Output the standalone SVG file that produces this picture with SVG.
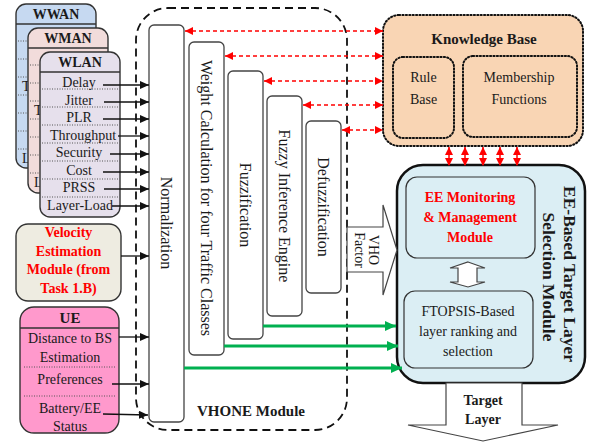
<svg xmlns="http://www.w3.org/2000/svg" width="594" height="443" viewBox="0 0 594 443" font-family="'Liberation Serif', 'Times New Roman', serif">
  <defs>
    <marker id="ahBlack" markerUnits="userSpaceOnUse" markerWidth="9" markerHeight="8" refX="9" refY="4" orient="auto">
      <path d="M0,0 L9,4 L0,8 z" fill="#111"/>
    </marker>
    <marker id="ahRed" markerUnits="userSpaceOnUse" markerWidth="8" markerHeight="8" refX="8" refY="4" orient="auto-start-reverse">
      <path d="M0,0 L8,4 L0,8 z" fill="#ff0000"/>
    </marker>
    <marker id="ahGreen" markerUnits="userSpaceOnUse" markerWidth="11" markerHeight="10" refX="11" refY="5" orient="auto">
      <path d="M0,0 L11,5 L0,10 z" fill="#00b050"/>
    </marker>
    <style>
      text { font-family: "Liberation Serif", "Times New Roman", serif; fill: #1a1a1a; }
      .t14 { font-size: 14px; }
      .t16 { font-size: 16px; }
      .b { font-weight: bold; }
      .red { fill: #ff0000; }
      .mid { text-anchor: middle; }
      .vc { text-anchor: middle; dominant-baseline: central; }
      .card { stroke: #333; stroke-width: 1.4; }
      .sep { stroke: #555; stroke-width: 1; stroke-dasharray: 1 1.5; }
      .hdr { stroke: #333; stroke-width: 1.4; }
      .stage { fill: #fff; stroke: #444; stroke-width: 1.3; }
      .dotbox { stroke: #111; stroke-width: 2; stroke-dasharray: 1.2 2.2; stroke-linecap: round; }
      .inbox { fill: #dbeef4; stroke: #333; stroke-width: 1.2; }
      .hollow { fill: #fff; stroke: #444; stroke-width: 1.2; }
      .inp { stroke: #111; stroke-width: 1.3; fill: none; marker-end: url(#ahBlack); }
      .kb { stroke: #ff0000; stroke-width: 1.5; stroke-dasharray: 4 3; fill: none; marker-start: url(#ahRed); marker-end: url(#ahRed); }
      .grn { stroke: #00b050; stroke-width: 3; fill: none; marker-end: url(#ahGreen); }
    </style>
  </defs>

  <!-- stacked network-layer parameter cards -->
  <g id="wwan">
    <rect class="card" x="16" y="4" width="80" height="164" rx="10" fill="#c6d9f1"/>
    <line class="hdr" x1="16" y1="24" x2="96" y2="24"/>
    <g class="sep">
      <line x1="18" y1="41" x2="94" y2="41"/><line x1="18" y1="59" x2="94" y2="59"/>
      <line x1="18" y1="77" x2="94" y2="77"/><line x1="18" y1="95" x2="94" y2="95"/>
      <line x1="18" y1="113" x2="94" y2="113"/><line x1="18" y1="131" x2="94" y2="131"/>
      <line x1="18" y1="149" x2="94" y2="149"/>
    </g>
    <text class="t14 b mid" x="56" y="19">WWAN</text>
    <text class="t14" x="22" y="91">T</text>
    <text class="t14" x="22" y="163">L</text>
  </g>
  <g id="wman">
    <rect class="card" x="28" y="28" width="80" height="165" rx="10" fill="#f2dcdb"/>
    <line class="hdr" x1="28" y1="48" x2="108" y2="48"/>
    <g class="sep">
      <line x1="30" y1="65" x2="106" y2="65"/><line x1="30" y1="83" x2="106" y2="83"/>
      <line x1="30" y1="101" x2="106" y2="101"/><line x1="30" y1="119" x2="106" y2="119"/>
      <line x1="30" y1="137" x2="106" y2="137"/><line x1="30" y1="155" x2="106" y2="155"/>
      <line x1="30" y1="173" x2="106" y2="173"/>
    </g>
    <text class="t14 b mid" x="68" y="43">WMAN</text>
    <text class="t14" x="34" y="115">T</text>
    <text class="t14" x="34" y="187">L</text>
  </g>
  <g id="wlan">
    <rect class="card" x="40" y="52" width="80" height="165" rx="10" fill="#e6e0ec"/>
    <line class="hdr" x1="40" y1="72" x2="120" y2="72"/>
    <g class="sep">
      <line x1="42" y1="89" x2="118" y2="89"/><line x1="42" y1="107" x2="118" y2="107"/>
      <line x1="42" y1="125" x2="118" y2="125"/><line x1="42" y1="143" x2="118" y2="143"/>
      <line x1="42" y1="161" x2="118" y2="161"/><line x1="42" y1="179" x2="118" y2="179"/>
      <line x1="42" y1="197" x2="118" y2="197"/>
    </g>
    <text class="t14 b mid" x="80" y="67">WLAN</text>
    <text class="t14 mid" x="79" y="87">Delay</text>
    <text class="t14 mid" x="79" y="105">Jitter</text>
    <text class="t14 mid" x="79" y="122">PLR</text>
    <text class="t14 mid" x="83" y="140">Throughput</text>
    <text class="t14 mid" x="79" y="157">Security</text>
    <text class="t14 mid" x="79" y="175">Cost</text>
    <text class="t14 mid" x="79" y="192">PRSS</text>
    <text class="t14 mid" x="80" y="210">Layer-Load</text>
  </g>

  <g id="velocity">
    <rect class="card" x="16" y="224" width="105" height="77" rx="12" fill="#eeece1"/>
    <text class="t14 b mid red" x="68.5" y="237">Velocity</text>
    <text class="t14 b mid red" x="68.5" y="256">Estimation</text>
    <text class="t14 b mid red" x="68.5" y="274">Module (from</text>
    <text class="t14 b mid red" x="68.5" y="293">Task 1.B)</text>
  </g>

  <g id="ue">
    <rect class="card" x="20" y="307" width="99" height="126" rx="14" fill="#ff99cc"/>
    <line class="hdr" x1="20" y1="328" x2="119" y2="328"/>
    <line class="sep" x1="24" y1="367" x2="115" y2="367"/>
    <line class="sep" x1="24" y1="396" x2="115" y2="396"/>
    <text class="t14 b mid" x="70" y="323" style="font-size:15px">UE</text>
    <text class="t14 mid" x="70" y="343">Distance to BS</text>
    <text class="t14 mid" x="70" y="362">Estimation</text>
    <text class="t14 mid" x="70" y="384">Preferences</text>
    <text class="t14 mid" x="70" y="413">Battery/EE</text>
    <text class="t14 mid" x="70" y="431">Status</text>
  </g>

  <!-- VHONE fuzzy pipeline -->
  <g id="vhone">
    <rect x="136" y="8" width="211" height="422" rx="32" fill="none" stroke="#111" stroke-width="1.8" stroke-dasharray="8 5"/>
    <text class="b mid" x="251" y="416" style="font-size:15px">VHONE Module</text>
  </g>
  <g id="normalization">
    <rect class="stage" x="149" y="25" width="35" height="397" rx="5"/>
    <text class="t16 vc" transform="translate(166.5,223) rotate(90)">Normalization</text>
  </g>
  <g id="weights">
    <rect class="stage" x="189" y="42" width="35" height="313" rx="5"/>
    <text class="t16 vc" transform="translate(206.5,198) rotate(90)">Weight Calculation for four Traffic Classes</text>
  </g>
  <g id="fuzzification">
    <rect class="stage" x="228" y="71" width="35" height="268" rx="5"/>
    <text class="t16 vc" transform="translate(245.5,205) rotate(90)">Fuzzification</text>
  </g>
  <g id="inference">
    <rect class="stage" x="267" y="96" width="35" height="220" rx="5"/>
    <text class="t16 vc" transform="translate(284.5,206) rotate(90)">Fuzzy Inference Engine</text>
  </g>
  <g id="defuzzification">
    <rect class="stage" x="306" y="121" width="35" height="172" rx="5"/>
    <text class="t16 vc" transform="translate(323.5,207) rotate(90)">Defuzzification</text>
  </g>

  <g id="knowledge-base">
    <rect class="dotbox" x="383" y="15" width="200" height="131" rx="16" fill="#f9d5b4"/>
    <text class="b mid" x="484" y="44" style="font-size:15px">Knowledge Base</text>
    <rect class="dotbox" x="393" y="57" width="61" height="81" rx="10" fill="none"/>
    <text class="t14 mid" x="423.5" y="82">Rule</text>
    <text class="t14 mid" x="423.5" y="104">Base</text>
    <rect class="dotbox" x="463" y="56" width="114" height="81" rx="10" fill="none"/>
    <text class="t14 mid" x="519" y="82">Membership</text>
    <text class="t14 mid" x="519" y="104">Functions</text>
  </g>

  <g id="target-selection">
    <rect x="397" y="165" width="188" height="218" rx="26" fill="#dbeef4" stroke="#111" stroke-width="2.5"/>
    <text class="b vc" transform="translate(570,274) rotate(90)" style="font-size:17.5px">EE-Based Target Layer</text>
    <text class="b vc" transform="translate(549,277) rotate(90)" style="font-size:17.5px">Selection Module</text>
  </g>
  <g id="ee-monitoring">
    <rect class="inbox" x="406" y="177" width="129" height="81" rx="11"/>
    <text class="t14 b mid red" x="470" y="202">EE Monitoring</text>
    <text class="t14 b mid red" x="470" y="222">&amp; Management</text>
    <text class="t14 b mid red" x="470" y="242">Module</text>
  </g>
  <g id="ftopsis">
    <rect class="inbox" x="404" y="291" width="129" height="77" rx="11"/>
    <text class="t14 mid" x="468" y="316">FTOPSIS-Based</text>
    <text class="t14 mid" x="468" y="336">layer ranking and</text>
    <text class="t14 mid" x="468" y="356">selection</text>
  </g>

  <g id="vho-factor">
    <polygon class="hollow" points="347,227 383,227 383,205 397,250 383,295 383,272 347,272"/>
    <text class="vc" transform="translate(373,250) rotate(90)" style="font-size:14px">VHO</text>
    <text class="vc" transform="translate(359,250) rotate(90)" style="font-size:14px">Factor</text>
  </g>

  <g id="target-layer">
    <polygon class="hollow" points="446,383 446,425 408,425 483,441 558,425 522,425 522,383"/>
    <text class="t14 b mid" x="483" y="405">Target</text>
    <text class="t14 b mid" x="483" y="424">Layer</text>
  </g>

  <!-- connectors -->
  <g id="connectors">
    <!-- inputs into normalization -->
    <line class="inp" x1="103" y1="85" x2="149" y2="85"/>
    <line class="inp" x1="104" y1="102" x2="149" y2="102"/>
    <line class="inp" x1="103" y1="119" x2="149" y2="119"/>
    <line class="inp" x1="118" y1="136" x2="149" y2="136"/>
    <line class="inp" x1="110" y1="154" x2="149" y2="154"/>
    <line class="inp" x1="103" y1="172" x2="149" y2="172"/>
    <line class="inp" x1="104" y1="189" x2="149" y2="189"/>
    <line class="inp" x1="112" y1="206" x2="149" y2="206"/>
    <line class="inp" x1="121" y1="256" x2="149" y2="256"/>
    <line class="inp" x1="119" y1="337" x2="149" y2="337"/>
    <line class="inp" x1="112" y1="384" x2="149" y2="384"/>
    <line class="inp" x1="103" y1="414" x2="148" y2="415"/>

    <!-- knowledge base exchanges -->
    <line class="kb" x1="185" y1="31" x2="383" y2="31"/>
    <line class="kb" x1="225" y1="56" x2="383" y2="56"/>
    <line class="kb" x1="264" y1="81" x2="383" y2="81"/>
    <line class="kb" x1="303" y1="105" x2="383" y2="105"/>
    <line class="kb" x1="342" y1="130" x2="383" y2="130"/>
    <line class="kb" x1="449" y1="147" x2="449" y2="166"/>
    <line class="kb" x1="465" y1="147" x2="465" y2="166"/>
    <line class="kb" x1="483" y1="147" x2="483" y2="166"/>
    <line class="kb" x1="500" y1="147" x2="500" y2="166"/>
    <line class="kb" x1="517" y1="147" x2="517" y2="166"/>

    <!-- weights and fuzzy sets to FTOPSIS -->
    <line class="grn" x1="263" y1="326" x2="396" y2="326"/>
    <line class="grn" x1="224" y1="346" x2="398" y2="346"/>
    <line class="grn" x1="184" y1="368" x2="402" y2="368"/>

    <!-- EE monitoring <-> FTOPSIS -->
    <polygon class="hollow" points="468,262 485,268 477,268 477,282 485,282 468,287 450,282 458,282 458,268 450,268"/>
  </g>
</svg>
